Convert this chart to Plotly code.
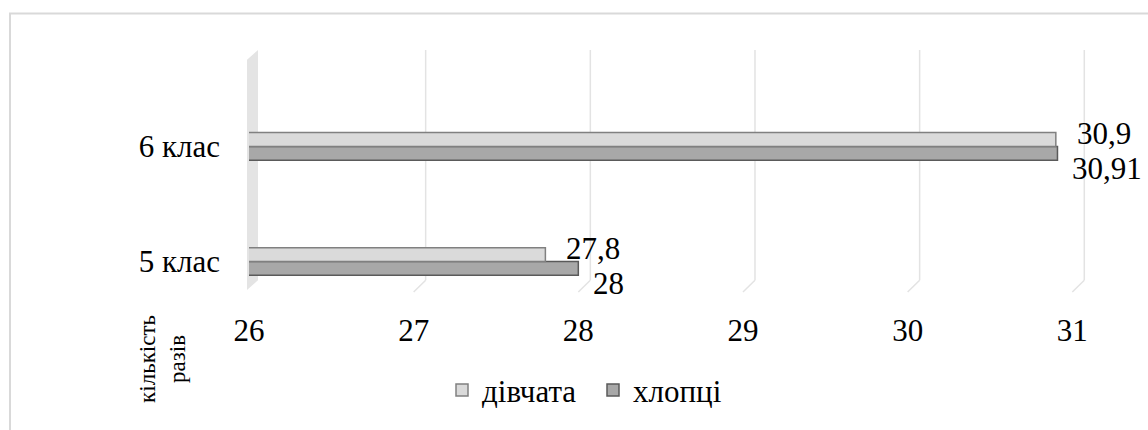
import plotly.graph_objects as go

# ---- data ----
categories = ["5 клас", "6 клас"]
girls = [27.8, 30.9]
boys = [28.0, 30.91]
series_names = ["дівчата", "хлопці"]
x_ticks = [26, 27, 28, 29, 30, 31]
axis_title = "кількість<br>разів"

FONT = "Liberation Serif"
FS = 31

# ---- geometry (pixels) ----
W, H = 1148, 430
PL, PR, PT, PB = 249, 51, 50, 134
PW = W - PL - PR
PH = H - PT - PB
XR = [26, 31.15]
UNIT = PW / (XR[1] - XR[0])


def px(x):
    return (x - PL) / PW


def py(y):
    return (PT + PH - y) / PH


def fmt(v):
    return f"{v:g}".replace(".", ",")


fig = go.Figure()
# boys first so that girls are drawn above them within each group
fig.add_trace(go.Bar(
    y=categories, x=boys, orientation="h", name=series_names[1],
    marker=dict(color="#a8a8a8", line=dict(color="#5a5a5a", width=1.5)),
    legendrank=2,
))
fig.add_trace(go.Bar(
    y=categories, x=girls, orientation="h", name=series_names[0],
    marker=dict(color="#dadada", line=dict(color="#808080", width=1.5)),
    legendrank=1,
))

shapes = []
# outer chart border
shapes.append(dict(type="rect", xref="paper", yref="paper",
                   x0=px(10), x1=px(1200), y0=py(13), y1=py(520),
                   line=dict(color="#d9d9d9", width=2), fillcolor="rgba(0,0,0,0)",
                   layer="below"))
# side wall
shapes.append(dict(type="path", xref="paper", yref="paper",
                   path=f"M {px(247)},{py(60)} L {px(258)},{py(50)} L {px(258)},{py(284)} L {px(247)},{py(294)} Z",
                   fillcolor="#e4e4e4", line=dict(width=0), layer="below"))
# back-plane gridlines
dx = 12 / UNIT
for v in x_ticks[1:]:
    shapes.append(dict(type="line", xref="x", yref="paper",
                       x0=v + dx, x1=v + dx, y0=py(284), y1=1,
                       line=dict(color="#e3e3e3", width=1.5), layer="below"))
    shapes.append(dict(type="line", xref="x", yref="paper",
                       x0=v + dx, x1=v, y0=py(284), y1=py(296),
                       line=dict(color="#e3e3e3", width=1.5), layer="below"))

annotations = []
for c, v in zip(categories, girls):
    annotations.append(dict(x=v, y=c, xref="x", yref="y", text=fmt(v),
                            showarrow=False, xanchor="left", yanchor="middle",
                            xshift=19, yshift=13,
                            font=dict(family=FONT, size=FS, color="#000000")))
for c, v in zip(categories, boys):
    annotations.append(dict(x=v, y=c, xref="x", yref="y", text=fmt(v),
                            showarrow=False, xanchor="left", yanchor="middle",
                            xshift=13, yshift=-22,
                            font=dict(family=FONT, size=FS, color="#000000")))
annotations.append(dict(x=px(163), y=py(364), xref="paper", yref="paper",
                        text=axis_title, textangle=-90, showarrow=False,
                        xanchor="center", yanchor="middle", align="center",
                        font=dict(family=FONT, size=23, color="#000000")))

fig.update_layout(
    width=W, height=H, autosize=False,
    margin=dict(l=PL, r=PR, t=PT, b=PB, pad=0),
    paper_bgcolor="white", plot_bgcolor="white",
    barmode="group", bargap=0.76, bargroupgap=0,
    font=dict(family=FONT, size=FS, color="#000000"),
    xaxis=dict(range=XR, tickvals=x_ticks, showgrid=False, zeroline=False,
               showline=False, ticks="", ticklabelstandoff=17,
               tickfont=dict(family=FONT, size=FS, color="#000000"), fixedrange=True),
    yaxis=dict(type="category", categoryorder="array", categoryarray=categories,
               range=[-0.265, 1.838], showgrid=False, zeroline=False, showline=False,
               ticks="", ticklabelstandoff=28,
               tickfont=dict(family=FONT, size=FS, color="#000000"), fixedrange=True),
    legend=dict(orientation="h", x=px(442), xanchor="left", y=py(396), yanchor="middle",
                font=dict(family=FONT, size=FS, color="#000000"),
                entrywidth=106, entrywidthmode="pixels",
                bgcolor="rgba(0,0,0,0)", traceorder="normal"),
    shapes=shapes,
    annotations=annotations,
    showlegend=True,
)

fig.write_html("out.html")
